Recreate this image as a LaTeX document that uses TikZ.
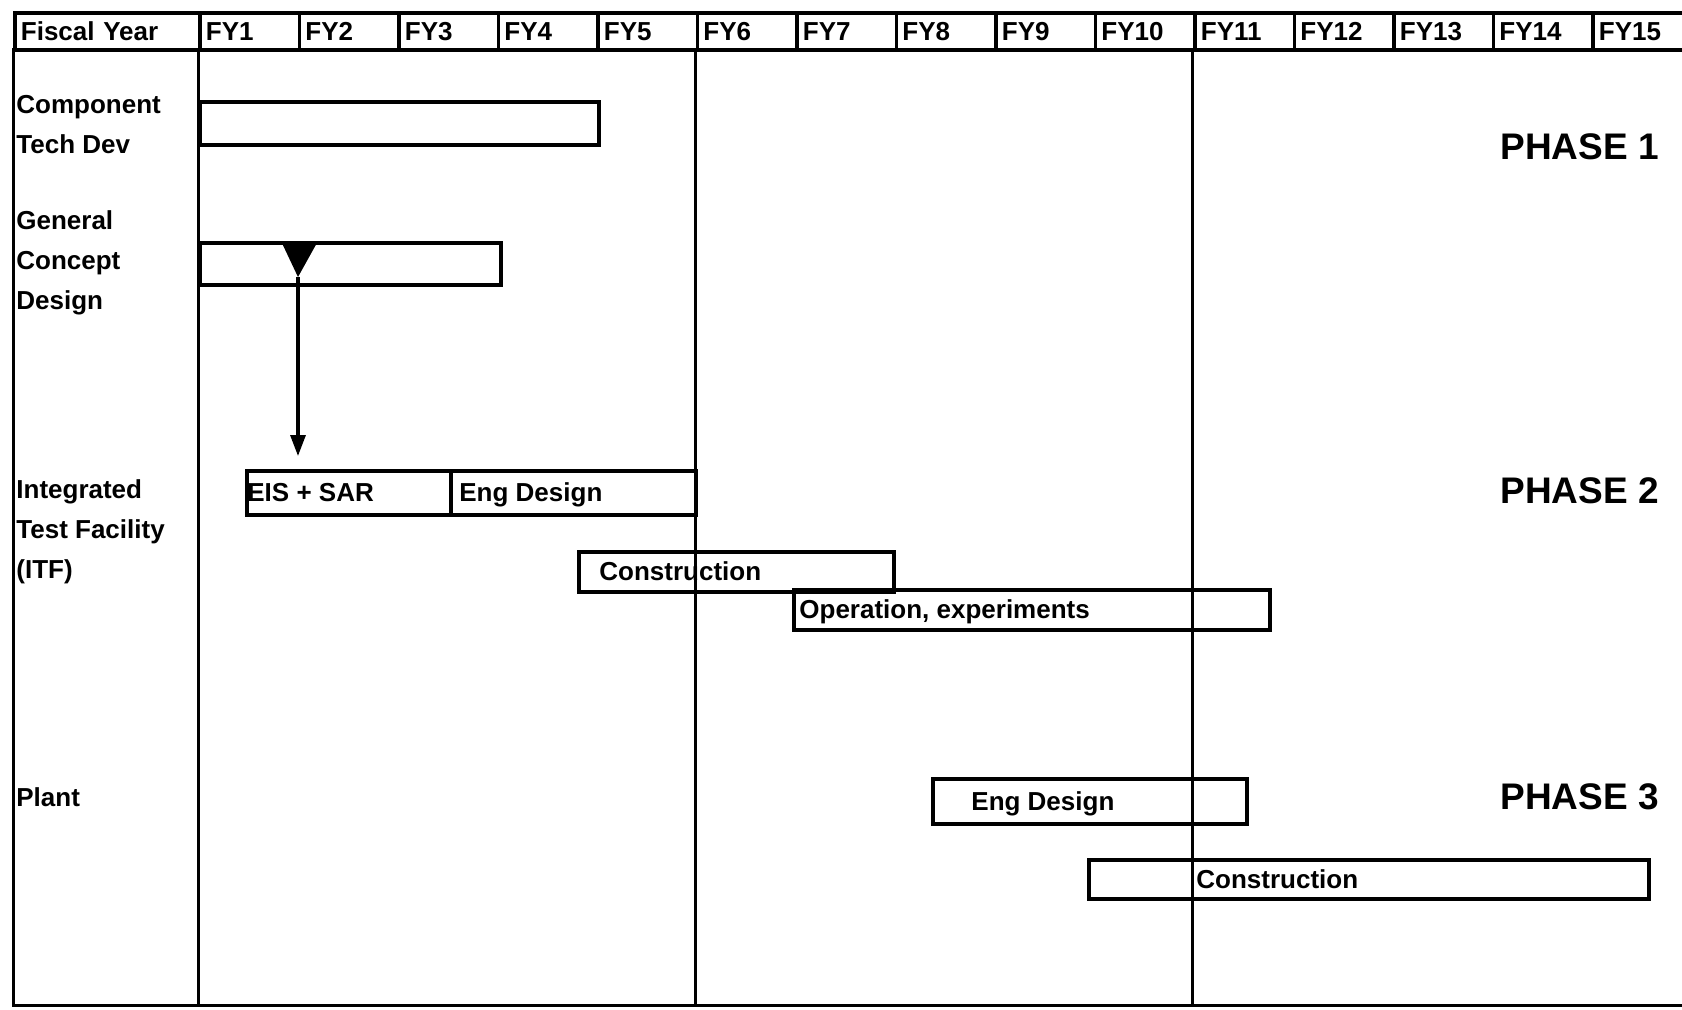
\documentclass[tikz,border=0pt]{standalone}
\usepackage{fontspec}
\setmainfont{Liberation Sans}
\usetikzlibrary{positioning,arrows.meta}

\begin{document}
\begin{tikzpicture}[
  x=0.5pt, y=-0.5pt,
  font=\bfseries\fontsize{13}{20}\selectfont,
  gridline/.style={line width=1.5pt, draw=black},
  hcell/.style={draw=black, line width=1.9pt, minimum height=18.5pt, inner xsep=3pt, inner ysep=0pt, text width=#1, align=left, anchor=north west},
  bar/.style={draw=black, line width=1.8pt, minimum height=21pt, inner sep=0pt, anchor=north west},
  bartext/.style={inner sep=0pt, text height=10.4pt, text depth=1.6pt},
  rowlabel/.style={inner sep=0pt, align=left, anchor=west},
  phase/.style={inner sep=0pt, anchor=west, font=\bfseries\fontsize{18.5}{22}\selectfont},
  link/.style={-{Triangle[length=10.5pt, width=7.5pt]}, line width=1.6pt, draw=black}
]
\useasboundingbox (0,0) rectangle (1682,1009);

% Header row
\node[hcell=86.5pt] (fyhead) at (13,11) {Fiscal Year};
\foreach \k in {1,...,15} {
  \node[hcell=43.75pt] (fy\k) at ({198+(\k-1)*99.5},11) {FY\k};
}

% Frame and phase dividers
\draw[gridline] (13,48) -- (13,1005) -- (1682,1005);
\draw[gridline] (198,48) -- (198,1005);
\draw[gridline] (695,48) -- (695,1005);
\draw[gridline] (1192,48) -- (1192,1005);

% Row labels
\node[rowlabel] (lbctd) at (16,125) {Component\\Tech Dev};
\node[rowlabel] (lbgcd) at (16,263) {General\\Concept\\Design};
\node[rowlabel] (lbitf) at (16,532) {Integrated\\Test Facility\\(ITF)};
\node[rowlabel] (lbplant) at (16,797) {Plant};

% Phase labels
\node[phase] (ph1) at (1500,147) {PHASE 1};
\node[phase] (ph2) at (1500,491) {PHASE 2};
\node[phase] (ph3) at (1500,797) {PHASE 3};

% Phase 1 bars
\node[bar, minimum width=199.5pt, minimum height=21.5pt] (ctd) at (198,100) {};
\node[bar, minimum width=150.5pt] (gcd) at (198,241) {};
\fill (281,241) -- (318,241) -- (298,277) -- cycle;
\coordinate (tritip) at (298,277);

% Phase 2 bars
\node[bar, minimum width=102pt, minimum height=22pt] (eis) at (245,469) {};
\node[bartext, right=1pt of eis.west] (eistxt) {EIS + SAR};
\node[bar, minimum width=122.5pt, minimum height=22pt] (itfeng) at (449,469) {};
\node[bartext, right=5pt of itfeng.west] (itfengtxt) {Eng Design};
\node[bar, minimum width=157.5pt, minimum height=20pt] (itfcon) at (577,550) {};
\node[bartext, right=11pt of itfcon.west] (itfcontxt) {Construction};
\node[bar, minimum width=238pt, minimum height=20pt] (oper) at (792,588) {};
\node[bartext, right=3.5pt of oper.west] (opertxt) {Operation, experiments};

% Phase 3 bars
\node[bar, minimum width=157pt, minimum height=22.5pt] (plteng) at (931,777) {};
\node[bartext, right=20pt of plteng.west] (pltengtxt) {Eng Design};
\node[bar, minimum width=280pt, minimum height=19.5pt] (pltcon) at (1087,858) {};
\node[bartext, right=54.5pt of pltcon.west] (pltcontxt) {Construction};

% Concept design feeds the ITF
\draw[link, shorten >=6.5pt] (tritip) -- (tritip |- eis.north);
\end{tikzpicture}
\end{document}
